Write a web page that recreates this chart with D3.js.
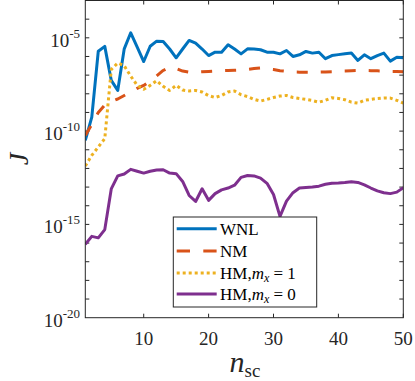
<!DOCTYPE html>
<html><head><meta charset="utf-8">
<script src="https://cdn.jsdelivr.net/npm/d3@7"></script>
<style>body{margin:0;background:#fff}svg{display:block}</style>
</head><body>
<svg id="c" width="415" height="381"></svg>
<script>
// exponents (log10 J), n_sc = 1..50
const nsc = d3.range(1, 51);
const wnlExp = [-10.5,-9.25,-5.72,-5.46,-7.28,-7.82,-5.59,-4.73,-5.5,-6.27,-5.45,-5.18,-5.2,-5.6,-6.07,-5.6,-5.14,-5.29,-5.6,-5.95,-5.77,-5.77,-5.37,-5.6,-5.86,-5.59,-5.6,-5.64,-5.77,-5.77,-5.86,-5.68,-6.0,-5.91,-5.73,-5.82,-5.77,-6.12,-5.95,-5.9,-5.85,-5.82,-6.21,-5.91,-6.12,-5.95,-5.82,-6.25,-6.04,-6.07];
const nmExp = [-10.23,-9.64,-9.0,-8.6,-8.41,-8.28,-8.09,-7.9,-7.71,-7.55,-7.31,-7.04,-6.75,-6.57,-6.64,-6.78,-6.84,-6.84,-6.82,-6.8,-6.78,-6.76,-6.75,-6.74,-6.73,-6.7,-6.65,-6.62,-6.66,-6.7,-6.76,-6.8,-6.83,-6.84,-6.84,-6.84,-6.84,-6.83,-6.82,-6.79,-6.78,-6.76,-6.75,-6.75,-6.76,-6.77,-6.78,-6.8,-6.8,-6.82];
const hm1Exp = [-11.87,-11.3,-10.85,-10.4,-6.7,-6.35,-6.5,-7.05,-7.55,-7.76,-7.55,-7.3,-7.6,-7.82,-7.55,-7.8,-7.85,-7.82,-7.9,-8.1,-8.2,-8.09,-7.9,-7.85,-8.05,-8.15,-8.3,-8.39,-8.3,-8.2,-8.12,-8.09,-8.2,-8.25,-8.3,-8.36,-8.45,-8.35,-8.21,-8.25,-8.32,-8.45,-8.5,-8.35,-8.3,-8.25,-8.22,-8.23,-8.35,-8.5];
const hm0Exp = [-16.07,-15.64,-15.72,-15.28,-13.1,-12.4,-12.3,-12.05,-12.15,-12.25,-12.15,-12.08,-12.07,-12.25,-12.28,-12.7,-13.45,-13.77,-13.09,-13.71,-13.35,-13.15,-13.05,-12.9,-12.48,-12.38,-12.4,-12.52,-12.8,-13.4,-14.57,-13.75,-13.3,-13.05,-13.02,-13.0,-12.95,-12.85,-12.79,-12.78,-12.76,-12.72,-12.75,-12.88,-13.05,-13.2,-13.3,-13.35,-13.27,-13.03];
const xTicks = [10, 20, 30, 40, 50];
const yLabelExps = [-20, -15, -10, -5];
const seriesNames = ["WNL", "NM", "HM1", "HM0"];

const svg = d3.select("#c");
const L = 85.3, R = 403.3, T = 0.5, B = 317.7;
const x = d3.scaleLinear().domain([1, 50]).range([L, R]);
const y = d3.scaleLog().domain([1e-20, 1e-3]).range([B, T]);
const axc = "#262626";
const serif = "'Liberation Serif','Times New Roman',serif";

svg.append("defs").append("clipPath").attr("id","clip")
  .append("rect").attr("x",L).attr("y",T).attr("width",R-L).attr("height",B-T);

// ticks
const minorExps = d3.range(-19, -3);
const tk = 4;
const g = svg.append("g").attr("stroke", axc).attr("stroke-width", 1);
minorExps.forEach(e => {
  const yy = y(Math.pow(10, e));
  g.append("line").attr("x1", L).attr("x2", L + tk).attr("y1", yy).attr("y2", yy);
  g.append("line").attr("x1", R).attr("x2", R - tk).attr("y1", yy).attr("y2", yy);
});
xTicks.forEach(v => {
  const xx = x(v);
  g.append("line").attr("x1", xx).attr("x2", xx).attr("y1", B).attr("y2", B - tk);
  g.append("line").attr("x1", xx).attr("x2", xx).attr("y1", T).attr("y2", T + tk);
});

const series = [
  {name:"WNL", e:wnlExp, color:"#0072BD", dash:null},
  {name:"NM", e:nmExp, color:"#D95319", dash:"11,13"},
  {name:"HM1", e:hm1Exp, color:"#EDB120", dash:"3,3"},
  {name:"HM0", e:hm0Exp, color:"#7E2F8E", dash:null}
];
const line = d3.line().x((d,i) => x(nsc[i])).y(d => y(d));
const lg = svg.append("g").attr("clip-path","url(#clip)");
series.forEach(s => {
  const vals = s.e.map(v => Math.pow(10, v));
  lg.append("path").datum(vals).attr("d", line)
    .attr("fill","none").attr("stroke", s.color).attr("stroke-width", 3)
    .attr("stroke-linejoin","round")
    .attr("stroke-dasharray", s.dash);
});

// box
svg.append("rect").attr("x", L).attr("y", T).attr("width", R-L).attr("height", B-T)
  .attr("fill","none").attr("stroke", axc).attr("stroke-width", 1);

// x tick labels
xTicks.forEach(v => {
  svg.append("text").attr("x", x(v)).attr("y", 345).attr("text-anchor","middle")
    .attr("font-family", serif).attr("font-size", 19).attr("fill", axc).text(v);
});
// y tick labels
yLabelExps.forEach(e => {
  const yy = y(Math.pow(10, e));
  const t = svg.append("text").attr("x", 80).attr("y", yy + 9).attr("text-anchor","end")
    .attr("font-family", serif).attr("font-size", 19).attr("fill", axc);
  t.append("tspan").text("10");
  t.append("tspan").attr("dy", -9).attr("font-size", 13).text(String(e));
});

// axis labels
svg.append("text").attr("transform", `translate(28,${(T+B)/2}) rotate(-90)`)
  .attr("text-anchor","middle").attr("font-family", serif).attr("font-style","italic")
  .attr("font-size", 28).attr("fill", axc).text("J");
const xl = svg.append("text").attr("x", 245).attr("y", 372).attr("text-anchor","middle")
  .attr("font-family", serif).attr("fill", axc);
xl.append("tspan").attr("font-style","italic").attr("font-size", 30).text("n");
xl.append("tspan").attr("font-size", 19).attr("dy", 5).text("sc");

// legend
const lgX = 173.3, lgY = 217, lgW = 143.4, lgH = 90;
svg.append("rect").attr("x", lgX).attr("y", lgY).attr("width", lgW).attr("height", lgH)
  .attr("fill","#fff").attr("stroke", axc).attr("stroke-width", 1);
const rowsY = [228.7, 251, 273, 294];
series.forEach((s, i) => {
  const yy = rowsY[i];
  svg.append("line").attr("x1", 176.7).attr("x2", 216.7).attr("y1", yy).attr("y2", yy)
    .attr("stroke", s.color).attr("stroke-width", 3)
    .attr("stroke-dasharray", s.name === "NM" ? "13.3,13.3" : s.dash);
  const t = svg.append("text").attr("x", 220).attr("y", yy + 6)
    .attr("font-family", serif).attr("font-size", 17).attr("fill", "#000");
  if (s.name === "WNL" || s.name === "NM") { t.text(s.name); }
  else {
    t.append("tspan").text("HM,");
    t.append("tspan").attr("font-style","italic").text("m");
    t.append("tspan").attr("font-style","italic").attr("font-size", 12).attr("dy", 3).text("x");
    t.append("tspan").attr("dy", -3).text(" = " + (s.name === "HM1" ? "1" : "0"));
  }
});
</script>
</body></html>
